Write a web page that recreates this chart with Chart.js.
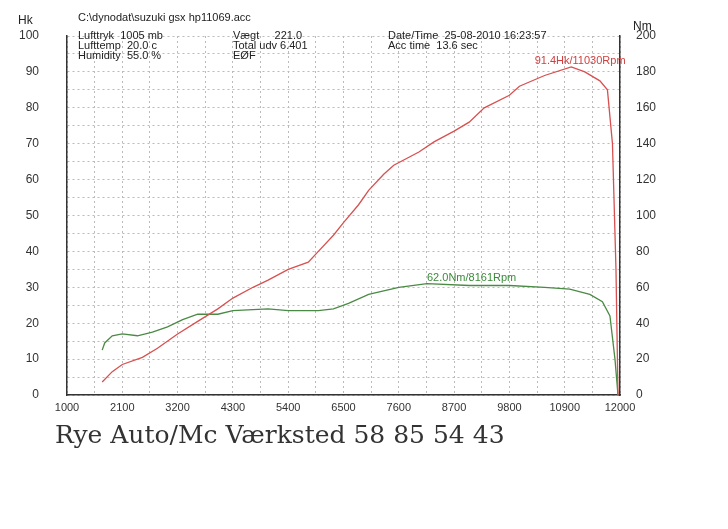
<!DOCTYPE html><html><head><meta charset="utf-8">
<script src="https://cdn.jsdelivr.net/npm/chart.js"></script>
<style>body{margin:0;background:#fff;width:728px;height:529px;overflow:hidden;font-family:"Liberation Sans",Arial,sans-serif}
#w{position:relative;width:728px;height:529px}
.t{position:absolute;font-size:11px;color:#222;line-height:10px;white-space:pre}
</style></head><body><div id="w"><canvas id="c" width="728" height="529"></canvas>
<div class="t" style="left:78px;top:12px">C:\dynodat\suzuki gsx hp11069.acc</div>
<div class="t" style="left:78px;top:30px">Lufttryk  1005 mb
Lufttemp  20.0 c
Humidity  55.0 %</div>
<div class="t" style="left:233px;top:30px">Vægt     221.0
Total udv 6.401
EØF</div>
<div class="t" style="left:388px;top:30px">Date/Time  25-08-2010 16:23:57
Acc time  13.6 sec</div>
<div class="t" style="left:18px;top:15px;font-size:12px">Hk</div>
<div class="t" style="left:633px;top:21px;font-size:12px">Nm</div>
<div style="position:absolute;left:55px;top:420px;font-family:'DejaVu Serif',serif;font-size:25px;color:#333">Rye Auto/Mc Værksted 58 85 54 43</div>
</div>
<script>
const rpmP=[1700,1900,2100,2500,2800,3200,3600,4000,4300,4700,5000,5400,5800,6000,6300,6500,6800,7000,7300,7500,8000,8300,8700,9000,9300,9800,10000,10500,11030,11300,11600,11750,11850,11920,11960];
const hk=[3.6,6.5,8.5,10.5,13,17,20.5,24,27,30,32,35,37,40,44.5,48,53,57,61.5,64,67.7,70.5,73.5,76,80,83.5,86,89,91.4,90,87.5,85,70,35,0];
const rpmT=[1700,1750,1900,2100,2400,2700,3000,3300,3600,4000,4300,5000,5400,6000,6300,6600,7000,7600,8161,9000,9800,10500,11000,11400,11650,11800,11900,11960];
const nm=[25,29,33,34,33,35,38,42,45,45,47,48,47,47,48,51,56,60,62,61,61,60,59,56,52,44,20,0];
const xTicks=[1000,2100,3200,4300,5400,6500,7600,8700,9800,10900,12000];
const labels={id:'l',afterDatasetsDraw(c){const x=c.scales.x,y=c.scales.y,g=c.ctx;g.save();g.font='11px "Liberation Sans"';g.fillStyle='#d04040';g.fillText('91.4Hk/11030Rpm',x.getPixelForValue(10700)-20,y.getPixelForValue(91.4)-3);g.fillStyle='#3a8a3a';g.fillText('62.0Nm/8161Rpm',x.getPixelForValue(8161),y.getPixelForValue(31)-3);g.restore();}};
const grid={color:'#bbb',drawTicks:false};
const bd={color:'#333',width:1.5,dash:[2,3]};
new Chart('c',{type:'line',data:{datasets:[
{data:rpmP.map((r,i)=>({x:r,y:hk[i]})),borderColor:'#d85050',borderWidth:1.3,pointRadius:0,yAxisID:'y'},
{data:rpmT.map((r,i)=>({x:r,y:nm[i]})),borderColor:'#4a8a44',borderWidth:1.3,pointRadius:0,yAxisID:'y2'}]},
options:{responsive:false,animation:false,layout:{padding:{top:36,left:0,right:0,bottom:0}},plugins:{legend:{display:false},tooltip:{enabled:false}},
scales:{x:{type:'linear',min:1000,max:12000,afterBuildTicks(s){s.ticks=[];for(let v=1000;v<=12000;v+=550)s.ticks.push({value:v});},afterFit(s){s.height=134},grid:grid,border:bd,ticks:{autoSkip:false,maxRotation:0,minRotation:0,padding:6,color:'#333',font:{size:11,family:'Liberation Sans'},callback:v=>xTicks.includes(v)?v:''}},
y:{min:0,max:100,afterBuildTicks(s){s.ticks=[];for(let v=0;v<=100;v+=5)s.ticks.push({value:v});},afterFit(s){s.width=67},grid:grid,border:bd,ticks:{autoSkip:false,padding:28,color:'#333',font:{size:12,family:'Liberation Sans'},callback:v=>v%10===0?v:''}},
y2:{position:'right',min:0,max:200,afterBuildTicks(s){s.ticks=[];for(let v=0;v<=200;v+=20)s.ticks.push({value:v});},afterFit(s){s.width=108},grid:{display:false},border:{color:'#333',width:1.5},ticks:{autoSkip:false,padding:8,color:'#333',font:{size:12,family:'Liberation Sans'}}}}},plugins:[labels]});
</script></body></html>
